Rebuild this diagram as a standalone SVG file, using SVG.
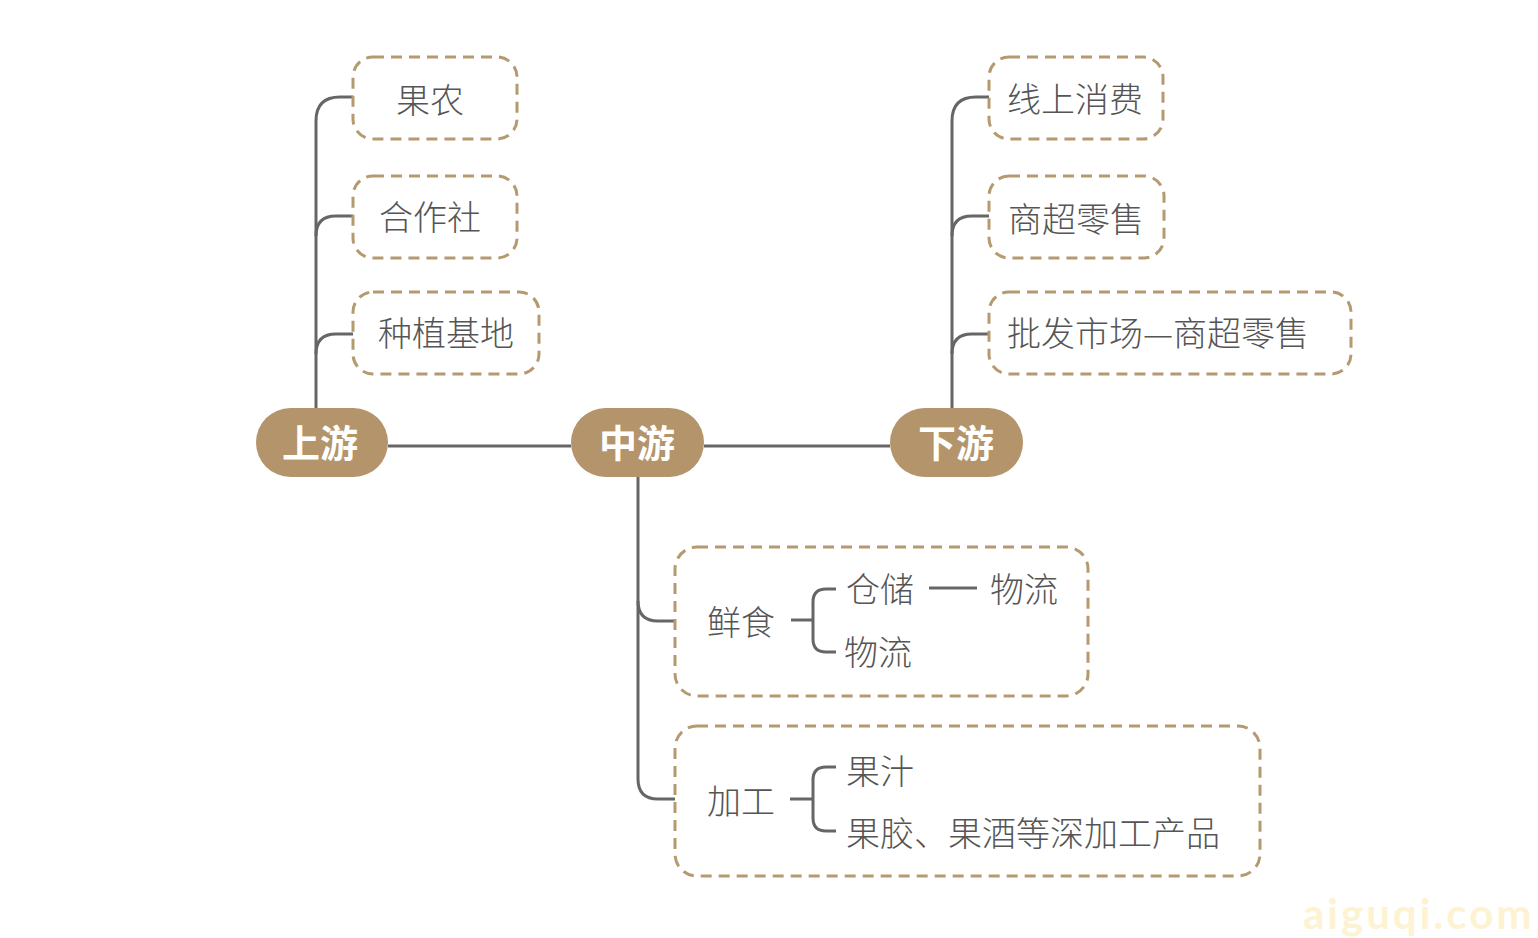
<svg xmlns="http://www.w3.org/2000/svg" width="1538" height="938" viewBox="0 0 1538 938">
<style>
.pill{fill:#b3946b}
.pt{font-family:"Noto Sans CJK SC","Noto Sans",sans-serif;font-size:38px;font-weight:bold;fill:#ffffff;text-anchor:middle;dominant-baseline:central}
.box{fill:#ffffff;stroke:#b59a70;stroke-width:3;stroke-dasharray:11 7}
.t{font-family:"Noto Sans CJK SC","Noto Sans",sans-serif;font-size:34px;font-weight:300;fill:#555555;dominant-baseline:central}
.c{fill:none;stroke:#666666;stroke-width:3}
.wm{font-family:Lato,"Liberation Sans",sans-serif;font-size:42px;font-weight:bold;fill:#fdf3d2;letter-spacing:3px}
</style>
<rect width="1538" height="938" fill="#ffffff"/>
<g id="connectors">
<path class="c" d="M388,446 H571 M704,446 H890"/>
<path class="c" d="M316,408 V121 Q316,97 340,97 H353"/>
<path class="c" d="M316,236 Q316,216 336,216 H353"/>
<path class="c" d="M316,354 Q316,334 336,334 H353"/>
<path class="c" d="M952,408 V121 Q952,97 976,97 H989"/>
<path class="c" d="M952,236 Q952,216 972,216 H989"/>
<path class="c" d="M952,354 Q952,334 972,334 H989"/>
<path class="c" d="M638,477 V779 Q638,799 658,799 H675"/>
<path class="c" d="M638,601 Q638,621 658,621 H675"/>
</g>
<g id="n-shangyou"><rect class="pill" x="256" y="408" width="132" height="69" rx="34.5"/><text class="pt" x="320" y="440">上游</text></g>
<g id="n-zhongyou"><rect class="pill" x="571" y="408" width="133" height="69" rx="34.5"/><text class="pt" x="637" y="440">中游</text></g>
<g id="n-xiayou"><rect class="pill" x="890" y="408" width="133" height="69" rx="34.5"/><text class="pt" x="956" y="440">下游</text></g>
<g id="n-guonong"><rect class="box" x="353" y="57" width="164" height="82" rx="20"/><text class="t" x="430" y="98" text-anchor="middle">果农</text></g>
<g id="n-hezuoshe"><rect class="box" x="353" y="176" width="164" height="82" rx="20"/><text class="t" x="430" y="215" text-anchor="middle">合作社</text></g>
<g id="n-zhongzhi"><rect class="box" x="353" y="292" width="186" height="82" rx="20"/><text class="t" x="446" y="331" text-anchor="middle">种植基地</text></g>
<g id="n-xianshang"><rect class="box" x="989" y="57" width="174" height="82" rx="20"/><text class="t" x="1075" y="97" text-anchor="middle">线上消费</text></g>
<g id="n-shangchao"><rect class="box" x="989" y="176" width="175" height="82" rx="20"/><text class="t" x="1076" y="217" text-anchor="middle">商超零售</text></g>
<g id="n-pifa"><rect class="box" x="989" y="292" width="362" height="82" rx="20"/><text class="t" x="1158" y="331" text-anchor="middle">批发市场—商超零售</text></g>
<g id="n-xianshi">
<rect class="box" x="675" y="547" width="413" height="149" rx="22"/>
<text class="t" x="741" y="620" text-anchor="middle">鲜食</text>
<path class="c" d="M791,620 H813 M836,589 H826 Q813,589 813,602 V639 Q813,652 826,652 H836 M929,588 H977"/>
<text class="t" x="880" y="587" text-anchor="middle">仓储</text>
<text class="t" x="1024" y="587" text-anchor="middle">物流</text>
<text class="t" x="878" y="650" text-anchor="middle">物流</text>
</g>
<g id="n-jiagong">
<rect class="box" x="675" y="726" width="585" height="150" rx="22"/>
<text class="t" x="741" y="799" text-anchor="middle">加工</text>
<path class="c" d="M790,799 H813 M836,767 H826 Q813,767 813,780 V818 Q813,831 826,831 H836"/>
<text class="t" x="880" y="769" text-anchor="middle">果汁</text>
<text class="t" x="1033" y="831" text-anchor="middle">果胶、果酒等深加工产品</text>
</g>
<text class="wm" x="1303" y="929">aiguqi.com</text>
</svg>
